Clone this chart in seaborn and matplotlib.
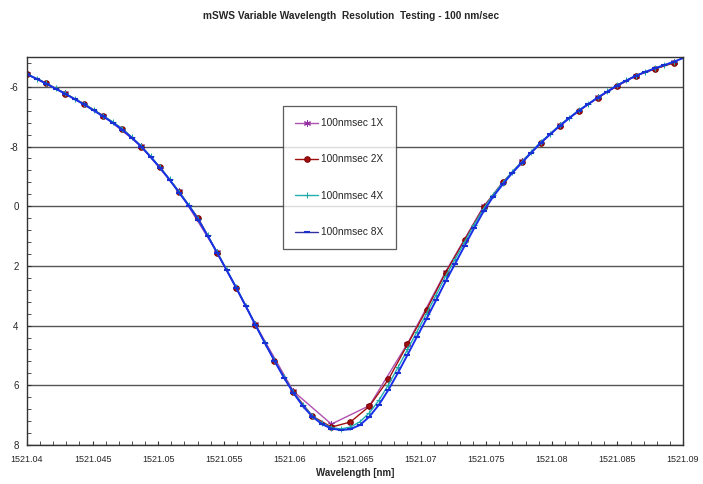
import numpy as np
import pandas as pd
import seaborn as sns
import matplotlib.pyplot as plt
from matplotlib.ticker import MultipleLocator, FixedLocator

# data (wavelength in nm, level in dB)
wl_1x = 1521.04 + np.arange(18) * 0.0029
lvl_1x = [-15.57, -16.22, -16.96, -17.98, -19.50, -21.55, -23.95, -26.20, -27.30,
          -26.68, -24.60, -22.20, -20.00, -18.50, -17.28, -16.35, -15.62, -15.18]

wl_2x = 1521.04 + np.arange(35) * 0.00145
lvl_2x = [-15.58, -15.87, -16.23, -16.57, -16.97, -17.40, -18.00, -18.70, -19.53,
          -20.40, -21.57, -22.73, -23.97, -25.17, -26.23, -27.03, -27.40, -27.23,
          -26.70, -25.80, -24.63, -23.47, -22.23, -21.13, -20.03, -19.20, -18.53,
          -17.87, -17.30, -16.80, -16.37, -15.97, -15.63, -15.40, -15.20]

wl_4x = 1521.04 + np.arange(69) * 0.000725
lvl_4x = [-15.57, -15.72, -15.88, -16.05, -16.22, -16.40, -16.57, -16.77, -16.97,
          -17.17, -17.40, -17.68, -17.98, -18.33, -18.70, -19.10, -19.52, -19.95,
          -20.42, -20.98, -21.55, -22.13, -22.72, -23.33, -23.95, -24.57, -25.15,
          -25.72, -26.22, -26.67, -27.02, -27.27, -27.42, -27.46, -27.40, -27.22,
          -26.92, -26.50, -25.98, -25.40, -24.80, -24.20, -23.60, -22.98, -22.35,
          -21.78, -21.20, -20.62, -20.08, -19.62, -19.22, -18.85, -18.52, -18.18,
          -17.85, -17.57, -17.28, -17.03, -16.78, -16.57, -16.35, -16.15, -15.95,
          -15.78, -15.62, -15.50, -15.38, -15.27, -15.17]

wl_8x = 1521.04 + np.arange(70) * 0.000725
lvl_8x = [-15.58, -15.73, -15.89, -16.06, -16.23, -16.41, -16.59, -16.79, -16.99,
          -17.20, -17.43, -17.70, -18.00, -18.35, -18.72, -19.12, -19.55, -19.98,
          -20.45, -21.00, -21.57, -22.15, -22.74, -23.35, -23.97, -24.58, -25.17,
          -25.74, -26.25, -26.70, -27.05, -27.30, -27.45, -27.50, -27.47, -27.33,
          -27.05, -26.65, -26.15, -25.58, -24.98, -24.37, -23.77, -23.15, -22.52,
          -21.93, -21.33, -20.74, -20.17, -19.68, -19.27, -18.89, -18.55, -18.21,
          -17.88, -17.59, -17.31, -17.05, -16.80, -16.58, -16.36, -16.16, -15.96,
          -15.79, -15.63, -15.50, -15.38, -15.27, -15.16, -15.03]

y_ticks = [-16, -18, -20, -22, -24, -26, -28]
y_ticklabels = ["-6", "-8", "0", "2", "4", "6", "8"]
x_ticks = [1521.04, 1521.045, 1521.05, 1521.055, 1521.06, 1521.065,
           1521.07, 1521.075, 1521.08, 1521.085, 1521.09]
x_ticklabels = ["1521.04", "1521.045", "1521.05", "1521.055", "1521.06", "1521.065",
                "1521.07", "1521.075", "1521.08", "1521.085", "1521.09"]

sns.set_style("white")
plt.rcParams['font.family'] = ['Liberation Sans', 'DejaVu Sans']

fig = plt.figure(figsize=(7.03, 4.84), dpi=100)
ax = fig.add_axes([0.0384, 0.0806, 0.9332, 0.8016])

sns.lineplot(x=wl_1x, y=lvl_1x, ax=ax, color="#b050b0", lw=1, marker=(6, 2, 0),
             markersize=5, markeredgecolor="#9030a0", label="100nmsec 1X", sort=False)
sns.lineplot(x=wl_2x, y=lvl_2x, ax=ax, color="#a01010", lw=1, marker="o",
             markersize=4, markeredgecolor="#800000", label="100nmsec 2X", sort=False)
sns.lineplot(x=wl_4x, y=lvl_4x, ax=ax, color="#20b0b0", lw=1, marker="+",
             markersize=5, markeredgecolor="#20a8a8", label="100nmsec 4X", sort=False)
sns.lineplot(x=wl_8x, y=lvl_8x, ax=ax, color="#1a2fe8", lw=1.4, marker="_",
             markersize=4, markeredgewidth=1.5, markeredgecolor="#1a2fd0",
             label="100nmsec 8X", sort=False)

ax.set_xlim(1521.04, 1521.09)
ax.set_ylim(-28, -15)
ax.xaxis.set_major_locator(FixedLocator(x_ticks))
ax.set_xticklabels(x_ticklabels, fontsize=6.5)
ax.xaxis.set_minor_locator(MultipleLocator(0.001))
ax.yaxis.set_major_locator(FixedLocator(y_ticks))
ax.set_yticklabels(y_ticklabels, fontsize=7)
ax.yaxis.set_minor_locator(MultipleLocator(0.4))
ax.tick_params(which="both", direction="in", color="#333333")
ax.tick_params(axis="x", which="both", bottom=True, length=3, pad=7)
ax.tick_params(axis="y", which="both", left=True, length=3, pad=6)
ax.grid(axis="y", color="#555555", lw=1)
for s in ax.spines.values():
    s.set_color("#333333")
    s.set_linewidth(1)

ax.set_xlabel("Wavelength [nm]", fontsize=7, fontweight="bold", labelpad=3)
ax.set_ylabel("")
fig.suptitle("mSWS Variable Wavelength  Resolution  Testing - 100 nm/sec",
             fontsize=7.3, fontweight="bold", y=0.978)

leg = ax.legend(loc="upper left", bbox_to_anchor=(0.39, 0.874), fontsize=7.3,
                frameon=True, fancybox=False, edgecolor="#333333",
                labelspacing=2.6, handlelength=2.3, borderpad=1.2,
                handletextpad=0.3, borderaxespad=0)
leg.get_frame().set_linewidth(0.9)
leg.get_lines()[3].set_color("#3030a0")
leg.get_lines()[3].set_linewidth(1)

fig.savefig("out.png", dpi=100)
